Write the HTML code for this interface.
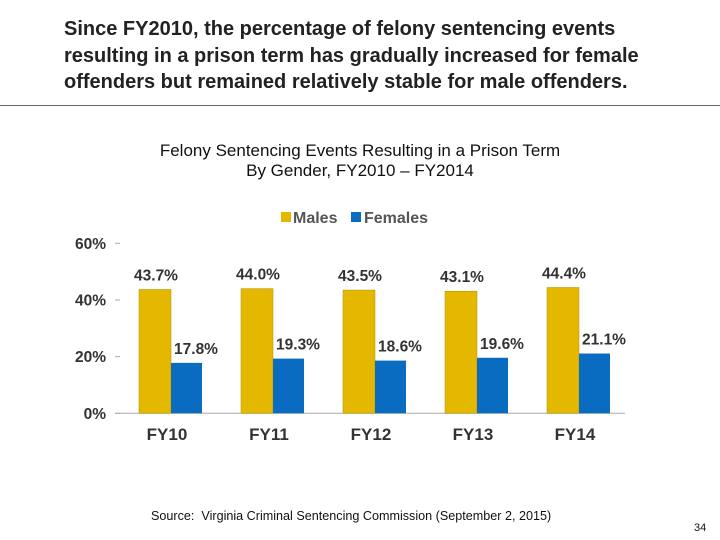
<!DOCTYPE html>
<html><head><meta charset="utf-8"><style>
body{margin:0;background:#fff;font-family:"Liberation Sans",Arial,sans-serif;}
#root{position:relative;width:720px;height:540px;overflow:hidden;}
.t{position:absolute;}
</style></head><body>
<div id="root">
<div class="t" style="left:64px;top:16px;font-size:20px;font-weight:bold;color:#222;line-height:26.5px;width:590px;">Since FY2010, the percentage of felony sentencing events resulting in a prison term has gradually increased for female offenders but remained relatively stable for male offenders.</div>
<div class="t" style="left:0;top:105px;width:720px;height:1px;background:#666;"></div>
<div class="t" style="left:0;top:141px;width:720px;text-align:center;font-size:17px;color:#111;line-height:19.5px;">Felony Sentencing Events Resulting in a Prison Term<br>By Gender, FY2010 – FY2014</div>
<svg class="t" style="left:0;top:0" width="720" height="540" id="chart"></svg>
<div class="t" style="left:151px;top:509px;font-size:12.6px;color:#111;">Source:&nbsp; Virginia Criminal Sentencing Commission (September 2, 2015)</div>
<div class="t" style="left:694px;top:522px;font-size:11px;color:#111;">34</div>
</div>
<script>
const categories=["FY10","FY11","FY12","FY13","FY14"];
const males=[43.7,44.0,43.5,43.1,44.4];
const females=[17.8,19.3,18.6,19.6,21.1];
const ticks=[0,20,40,60];
const svg=document.getElementById('chart');
const NS='http://www.w3.org/2000/svg';
const x0=115,x1=625,yBase=413.3,yTop=243.3,yMax=60;
const gw=(x1-x0)/categories.length;
const y=v=>yBase-(v/yMax)*(yBase-yTop);
function mk(tag,attrs,txt){const e=document.createElementNS(NS,tag);for(const k in attrs)e.setAttribute(k,attrs[k]);if(txt!=null)e.textContent=txt;svg.appendChild(e);return e;}
ticks.forEach(t=>{
 const l=mk('line',{x1:x0,x2:x0+5,y1:y(t),y2:y(t),stroke:'#aaa'});
 
 
 const tx=mk('text',{x:106,y:y(t)+5.5,'text-anchor':'end','font-size':15.5,'font-weight':'bold',fill:'#333'},t+'%');
 
 
});
const ax=mk('line',{x1:x0,x2:x1,y1:yBase,y2:yBase,stroke:'#aaa'});


categories.forEach((c,i)=>{
 const gx=x0+i*gw;
 const bm=mk('rect',{x:gx+24,y:y(males[i]),width:32,height:yBase-y(males[i]),fill:'#E5B800',stroke:'#b08d00','stroke-width':0.5});
 
 
 const bf=mk('rect',{x:gx+56,y:y(females[i]),width:31,height:yBase-y(females[i]),fill:'#0A6CC0'});
 
 
 const lm=mk('text',{x:gx+41,y:y(males[i])-9,'text-anchor':'middle','font-size':15.5,'font-weight':'bold',fill:'#333'},males[i].toFixed(1)+'%');
 
 
 const lf=mk('text',{x:gx+81,y:y(females[i])-9,'text-anchor':'middle','font-size':15.5,'font-weight':'bold',fill:'#333'},females[i].toFixed(1)+'%');
 
 
 const cl=mk('text',{x:gx+gw/2+1,y:440,'text-anchor':'middle','font-size':17,'font-weight':'bold',fill:'#333'},c);
 
 
});
const l1=mk('rect',{x:281,y:212,width:10,height:10,fill:'#E5B800'});


const lt1=mk('text',{x:293,y:223,'font-size':16,'font-weight':'bold',fill:'#555'},'Males');


const l2=mk('rect',{x:351,y:212,width:10,height:10,fill:'#0A6CC0'});


const lt2=mk('text',{x:364,y:223,'font-size':16,'font-weight':'bold',fill:'#555'},'Females');


</script>
</body></html>
